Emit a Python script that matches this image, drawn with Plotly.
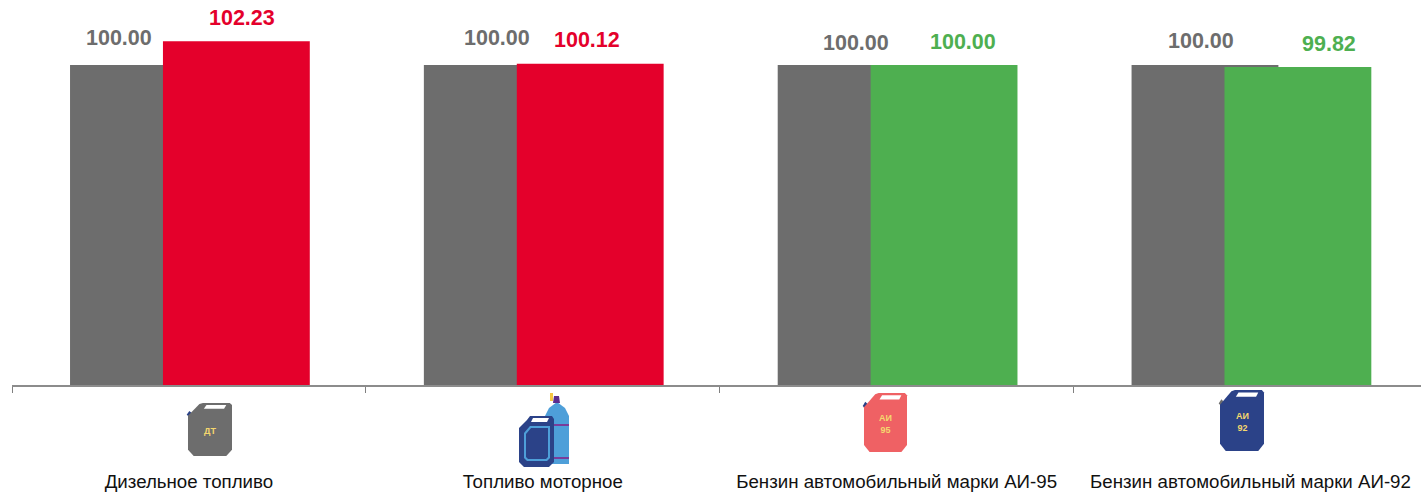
import plotly.graph_objects as go

categories = ["Дизельное топливо", "Топливо моторное",
              "Бензин автомобильный марки АИ-95", "Бензин автомобильный марки АИ-92"]
base_values = [100.00, 100.00, 100.00, 100.00]
current_values = [102.23, 100.12, 100.00, 99.82]
current_colors = ["#E4002B", "#E4002B", "#4EAF50", "#4EAF50"]

GRAY = "#6D6D6D"
W, H = 1421, 492
L, T, B = 12, 0, 107
PW, PH = W - L, H - T - B
FONT = "Liberation Sans, Arial, sans-serif"

# label nudges from each bar top, pixels
base_dx = [-25, -1, 4, -4]
base_dy = [13, 13, 8, 10]
cur_dx = [5, -4, 18, 31]
cur_dy = [17, 18, 17, 17]

fig = go.Figure()
fig.add_bar(x=categories, y=base_values, marker_color=GRAY, marker_line_width=0,
            width=0.415, offset=-0.336, showlegend=False)
fig.add_bar(x=categories, y=current_values, marker_color=current_colors, marker_line_width=0,
            width=0.415, offset=-0.0734, showlegend=False)

annotations = []
for i, c in enumerate(categories):
    annotations.append(dict(x=c, y=base_values[i], text=f"<b>{base_values[i]:.2f}</b>", showarrow=False,
                            xshift=base_dx[i] - 45, yshift=base_dy[i], yanchor="bottom",
                            font=dict(family=FONT, size=21.5, color=GRAY)))
    annotations.append(dict(x=c, y=current_values[i], text=f"<b>{current_values[i]:.2f}</b>", showarrow=False,
                            xshift=cur_dx[i] + 48, yshift=cur_dy[i] - 8, yanchor="bottom",
                            font=dict(family=FONT, size=21.5, color=current_colors[i])))


def px(x):
    return (x - L) / PW


def py(y):
    return 1 - (y - T) / PH


shapes = []


def poly(points, fill):
    d = "M" + " L".join(f"{px(a):.5f},{py(b):.5f}" for a, b in points) + " Z"
    shapes.append(dict(type="path", path=d, xref="paper", yref="paper", fillcolor=fill,
                       line=dict(width=0), layer="above"))


def jug(x0, y0, w, h, fill, cap, label_lines, label_size):
    m = lambda pts: [(x0 + a * w, y0 + b * h) for a, b in pts]
    poly(m([(-0.03, 0.22), (0.03, 0.15), (0.1, 0.2), (0.04, 0.27)]), cap)
    poly(m([(0, 0.24), (0.26, 0.02), (0.34, 0), (0.95, 0), (1, 0.04), (1, 0.88),
            (0.87, 1), (0.13, 1), (0, 0.88)]), fill)
    poly(m([(0.42, 0.04), (0.87, 0.04), (0.82, 0.11), (0.36, 0.11)]), "#FFFFFF")
    annotations.append(dict(x=px(x0 + w / 2), y=py(y0 + 0.52 * h), xref="paper", yref="paper",
                            xanchor="center", yanchor="middle",
                            text=label_lines, showarrow=False, align="center",
                            font=dict(family=FONT, size=label_size, color="#F5D76E")))


jug(188, 403, 44, 53, GRAY, "#2B4288", "<b>ДТ</b>", 9)
jug(864, 393, 43, 59, "#EF6164", "#2B4288", "<b>АИ<br>95</b>", 9)
jug(1220, 390, 44, 61, "#2B4288", GRAY, "<b>АИ<br>92</b>", 9)

# motor fuel: gas cylinder behind a canister
poly([(545, 464), (545, 416), (549, 408), (557, 402), (565, 408), (569, 416), (569, 464)], "#4E9FD9")
poly([(545, 424), (569, 424), (569, 426), (545, 426)], "#7A3C9A")
poly([(545, 457), (569, 457), (569, 459), (545, 459)], "#7A3C9A")
poly([(554, 396), (559, 396), (560, 403), (553, 403)], "#5B2C8E")
poly([(550, 393), (553, 393), (553, 401), (550, 401)], "#F5C542")
poly([(519, 428), (527, 420), (530, 416), (552, 416), (554, 419), (554, 462), (549, 467),
      (524, 467), (519, 462)], "#2B4288")
poly([(533, 418), (549, 418), (547, 422), (531, 422)], "#FFFFFF")
poly([(524, 433), (530, 426), (550, 426), (550, 458), (547, 461), (527, 461), (524, 458)], "#4E9FD9")
poly([(526, 434), (531, 428), (548, 428), (548, 457), (546, 459), (528, 459), (526, 457)], "#2B4288")

fig.update_layout(
    width=W, height=H, autosize=False,
    margin=dict(l=L, r=0, t=T, b=B, autoexpand=False),
    paper_bgcolor="#FFFFFF", plot_bgcolor="#FFFFFF",
    barmode="overlay", showlegend=False,
    annotations=annotations, shapes=shapes,
    font=dict(family=FONT),
    xaxis=dict(type="category", categoryorder="array", categoryarray=categories,
               range=[-0.5, 3.482], tickson="boundaries", ticks="outside", ticklen=6,
               tickwidth=1, tickcolor="#808080", showline=True, linecolor="#8C8C8C",
               linewidth=2, showgrid=False, zeroline=False, ticklabelstandoff=79, tickangle=0,
               tickfont=dict(family=FONT, size=18.7, color="#111111")),
    yaxis=dict(range=[70, 106.09], visible=False, showgrid=False, zeroline=False),
)
fig.write_html("out.html", config={"displayModeBar": False},
               post_script="document.body.style.margin='0';document.body.style.overflow='hidden';")
